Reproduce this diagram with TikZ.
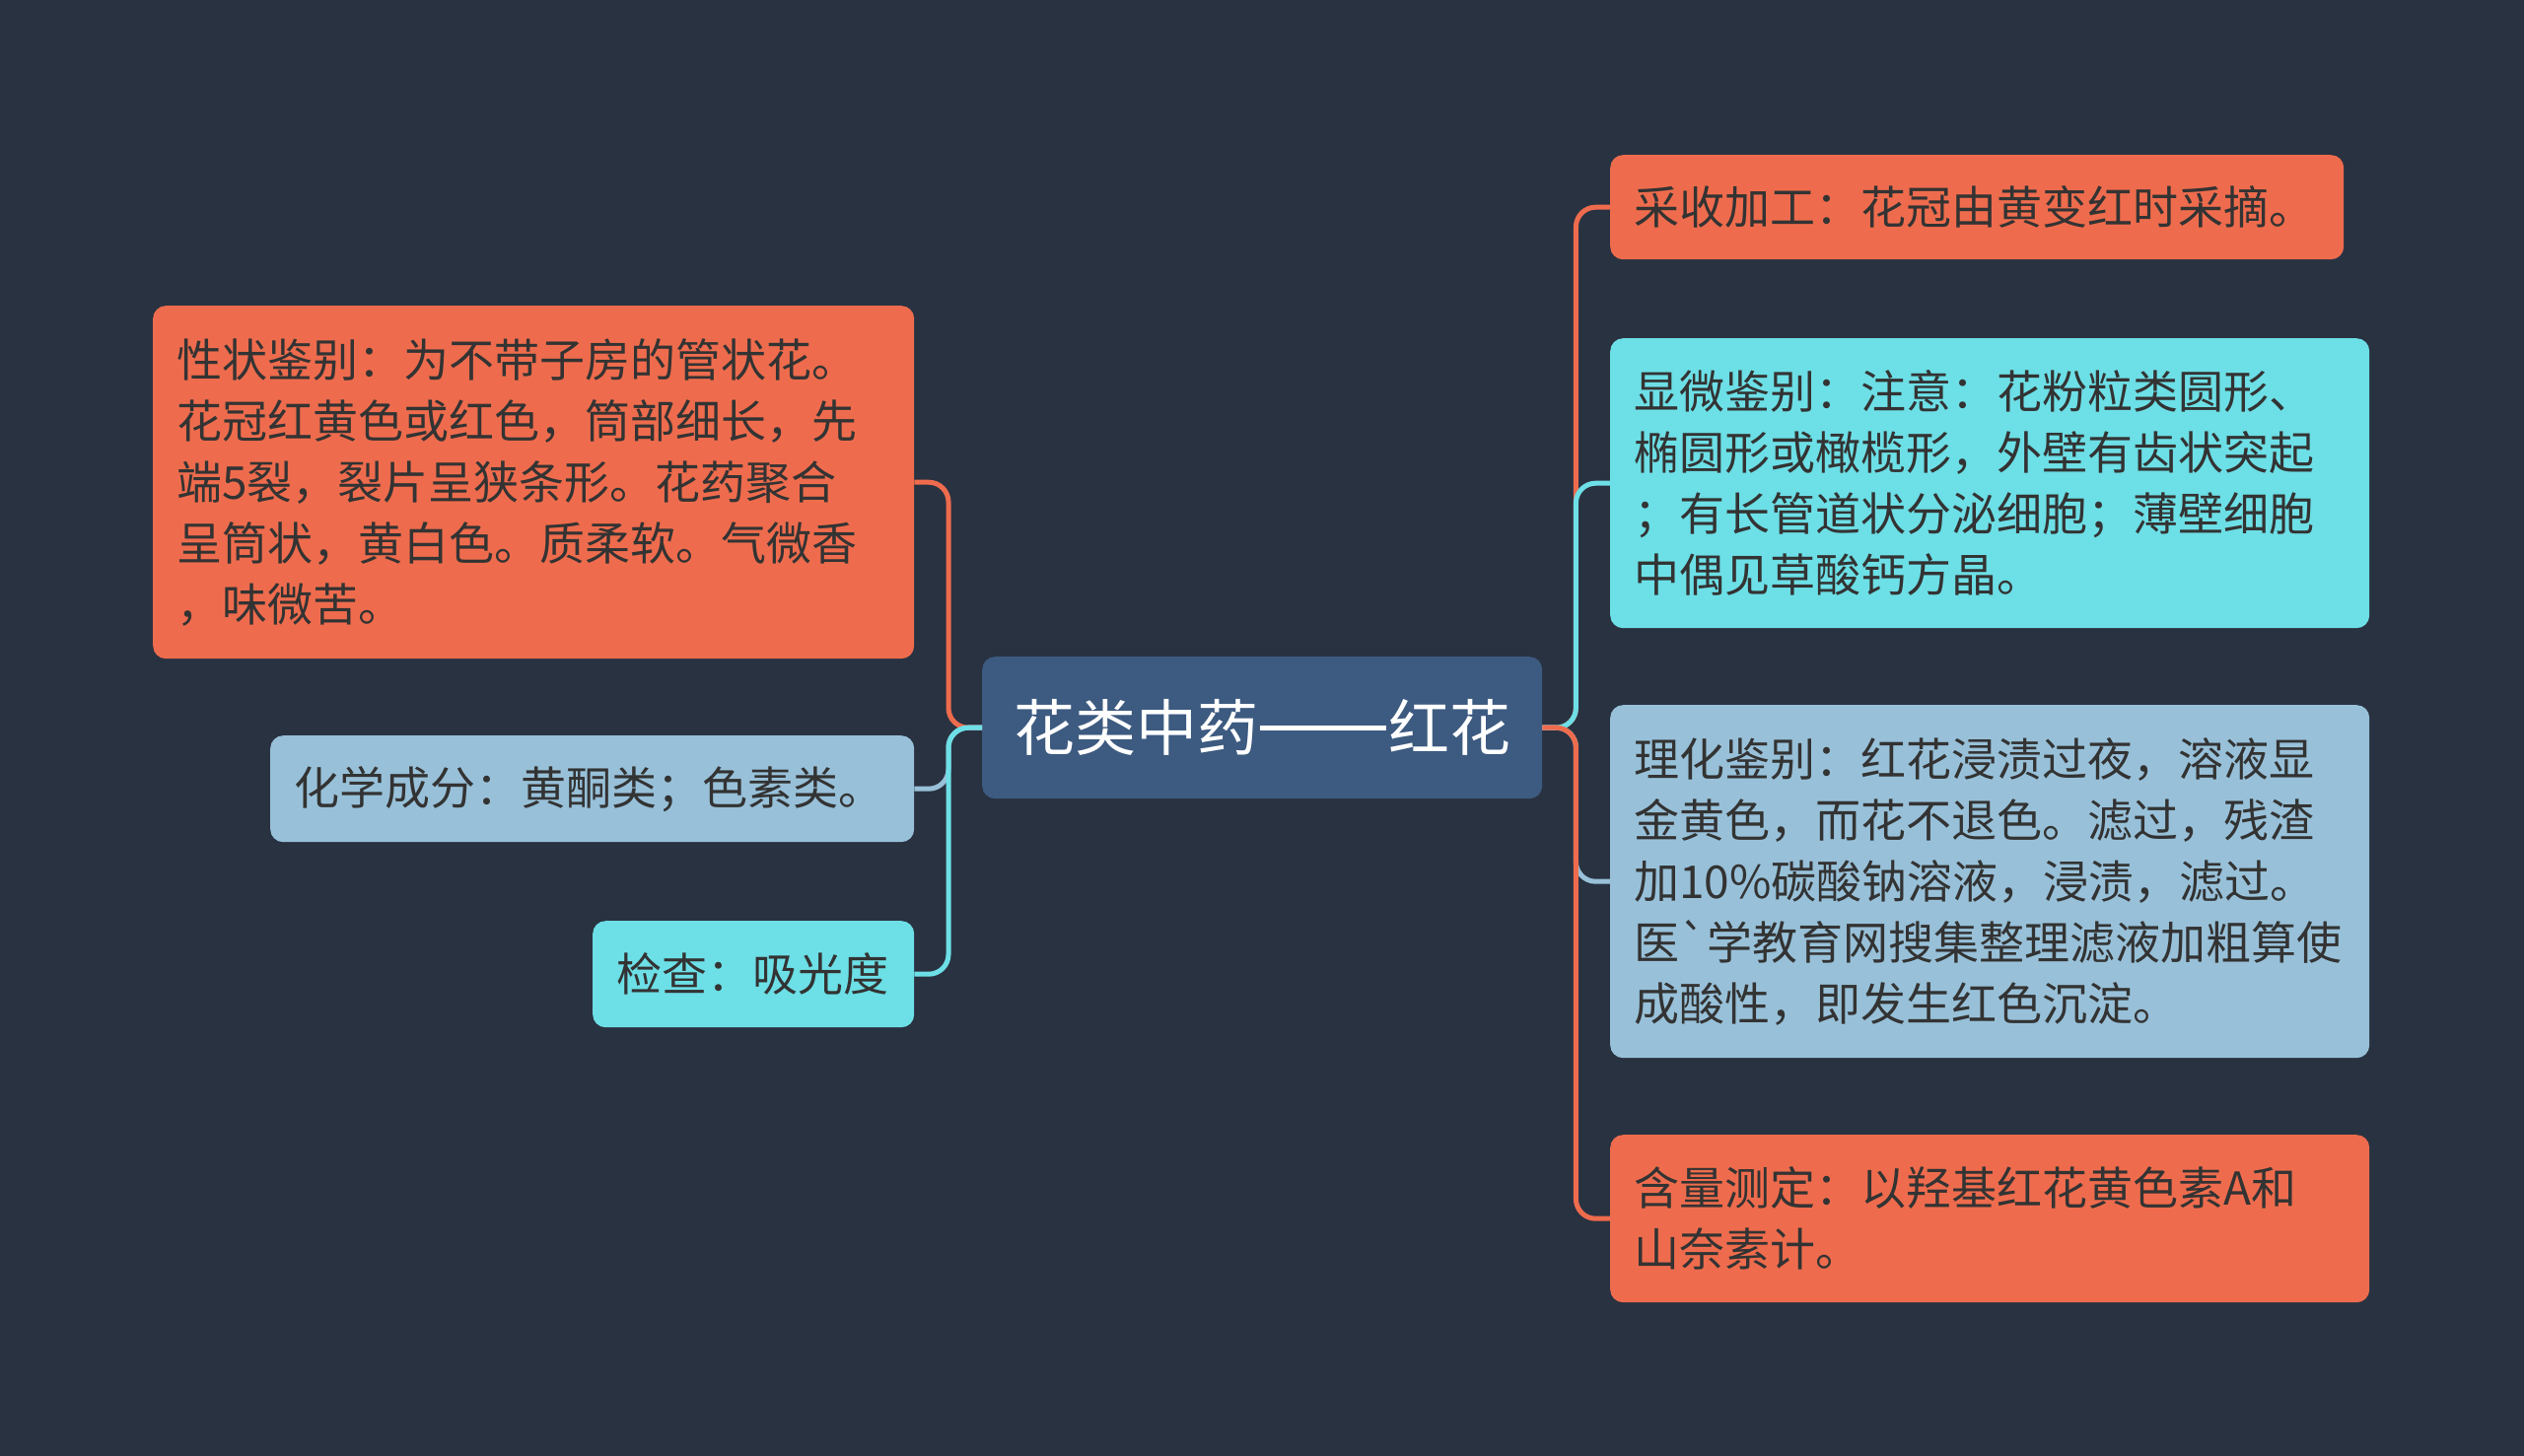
\documentclass[tikz,border=0pt]{standalone}
\usepackage{fontspec}
\setmainfont{Noto Sans CJK SC}[Ligatures=TeXOff]
\definecolor{bgc}{HTML}{293241}
\definecolor{orc}{HTML}{EE6C4D}
\definecolor{lbc}{HTML}{98C1D9}
\definecolor{cyc}{HTML}{6DDFE6}
\definecolor{cnc}{HTML}{3D5A80}
\definecolor{txc}{HTML}{333333}
\tikzset{
  box/.style={anchor=north west, rounded corners=13pt, inner xsep=24pt, inner ysep=0pt,
    align=left, text=txc, font=\fontsize{46pt}{62pt}\selectfont},
  centerbox/.style={anchor=north west, rounded corners=13pt, fill=cnc, inner sep=0pt,
    text=white, font=\fontsize{62pt}{70pt}\selectfont, minimum width=568pt, minimum height=144pt},
  conn/.style={line width=5pt, rounded corners=20pt}
}
\begin{document}
\begin{tikzpicture}[x=1pt,y=-1pt]
\useasboundingbox (0,0) rectangle (2560,1477);
\fill[bgc] (0,0) rectangle (2560,1477);

\node[centerbox] (c) at (996,666) {花类中药\hspace{2pt}\rule[21pt]{128pt}{4.5pt}\hspace{2pt}红花};

\node[box, fill=orc, text width=724pt, minimum height=358pt] (l1) at (155,310)
  {性状鉴别：为不带子房的管状花。\\花冠红黄色或红色，筒部细长，先\\端5裂，裂片呈狭条形。花药聚合\\呈筒状，黄白色。质柔软。气微香\\，味微苦。};
\node[box, fill=lbc, text width=605pt, minimum height=108pt] (l2) at (274,746)
  {化学成分：黄酮类；色素类。};
\node[box, fill=cyc, text width=278pt, minimum height=108pt] (l3) at (601,934)
  {检查：吸光度};

\node[box, fill=orc, text width=696pt, minimum height=106pt] (r1) at (1633,157)
  {采收加工：花冠由黄变红时采摘。};
\node[box, fill=cyc, text width=722pt, minimum height=294pt] (r2) at (1633,343)
  {显微鉴别：注意：花粉粒类圆形、\\椭圆形或橄榄形，外壁有齿状突起\\；有长管道状分泌细胞；薄壁细胞\\中偶见草酸钙方晶。};
\node[box, fill=lbc, text width=722pt, minimum height=358pt] (r3) at (1633,715)
  {理化鉴别：红花浸渍过夜，溶液显\\金黄色，而花不退色。滤过，残渣\\加10\%碳酸钠溶液，浸渍，滤过。\\医`学教育网搜集整理滤液加粗算使\\成酸性，即发生红色沉淀。};
\node[box, fill=orc, text width=722pt, minimum height=170pt] (r4) at (1633,1151)
  {含量测定：以羟基红花黄色素A和\\山奈素计。};

\coordinate (lsp) at ([xshift=-34pt]c.west);
\coordinate (rsp) at ([xshift=34pt]c.east);

\draw[conn, orc] (c.west) -- (lsp) |- (l1.east);
\draw[conn, lbc] (c.west) -- (lsp) |- (l2.east);
\draw[conn, cyc] (c.west) -- (lsp) |- (l3.east);

\draw[conn, orc] (c.east) -- (rsp) |- (r1.west);
\draw[conn, cyc] (c.east) -- (rsp) |- (r2.west);
\draw[conn, lbc] (c.east) -- (rsp) |- (r3.west);
\draw[conn, orc] (c.east) -- (rsp) |- (r4.west);
\end{tikzpicture}
\end{document}
